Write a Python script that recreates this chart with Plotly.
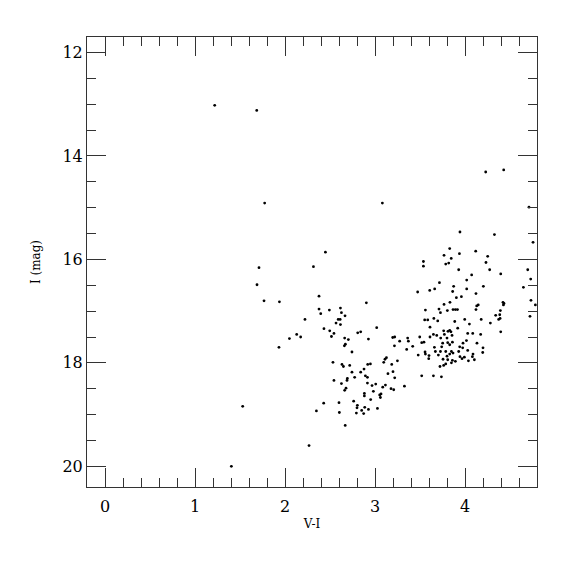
'''
Colour-magnitude diagram (I vs V-I) with Plotly
'''
import plotly.graph_objects as go

# V-I colour of each star
v_i = [
    1.219, 1.686, 1.774, 1.711, 1.689, 1.767, 1.938, 2.049, 1.933, 1.530, 1.404,
    2.449, 2.316, 2.378, 2.378, 2.493, 2.616, 2.397, 2.627, 2.667, 2.222, 2.591,
    2.613, 2.567, 2.616, 2.904, 3.474, 2.433, 2.497, 2.544, 2.516, 2.808, 2.841,
    3.019, 2.130, 2.174, 2.663, 2.704, 2.927, 3.197, 3.219, 3.274, 3.363, 3.371,
    3.497, 2.671, 2.660, 3.216, 3.419, 3.352, 2.744, 3.127, 3.111, 3.480,
    2.533, 2.633, 2.649, 2.719, 2.919, 2.949, 2.878, 2.841, 2.744, 3.097, 3.186,
    3.249, 3.144, 3.200, 3.219, 2.627, 2.544, 2.693, 2.689, 2.774, 2.893, 2.916,
    2.916, 2.967, 3.008, 2.678, 2.663, 2.882, 2.882, 2.982, 3.052, 3.067, 3.060,
    3.086, 3.116, 3.178, 3.208, 2.952, 2.763, 2.600, 2.430, 2.804, 2.800, 2.886,
    2.852, 2.927, 3.027, 2.349, 2.604, 2.793, 2.874, 2.669, 2.267,
    4.230, 4.430, 3.082, 4.711, 3.944, 4.327, 4.756, 3.830, 4.119, 3.767, 3.938,
    3.847, 4.252,
    3.538, 3.538, 3.786, 3.819, 3.930, 4.074, 4.019, 3.716, 3.608, 3.663, 3.874,
    3.863, 4.019, 4.122, 3.904, 3.960, 3.833, 3.767, 4.147, 4.130, 3.560, 3.711,
    3.727, 3.804, 3.867, 3.893, 3.916, 4.122, 3.997, 3.654, 3.552,
    4.233, 4.274, 4.397, 4.697, 4.730, 4.649, 4.204, 4.733, 4.422, 4.433, 4.427,
    4.393, 4.782, 4.722, 4.341, 4.386, 4.374, 4.390, 4.180,
    3.586, 3.697, 3.886, 4.049, 3.611, 3.763, 3.811, 3.830, 3.844, 3.919, 3.686,
    3.649, 3.771, 3.611, 3.856, 4.030, 4.086, 3.730, 3.800, 4.016, 4.133, 3.519,
    3.544, 3.752, 3.808, 3.860, 3.830, 3.978, 3.660, 3.741, 3.941, 3.974, 3.671,
    3.727, 3.786, 3.556, 3.560, 3.849, 3.830, 3.867, 3.930, 4.030, 3.704, 3.800,
    3.944, 3.993, 3.967, 4.089, 4.082, 3.600, 3.597, 3.756, 3.808, 3.860, 3.893,
    4.038, 4.104, 3.849, 3.786, 3.763, 3.722, 3.519, 3.649, 3.738,
    4.282, 4.397, 4.174, 4.200, 4.197, 3.327,
]

# I magnitude of each star
i_mag = [
    13.02, 13.12, 14.91, 16.16, 16.49, 16.80, 16.82, 17.53, 17.70, 18.84, 20.00,
    15.86, 16.14, 16.71, 16.96, 16.98, 16.94, 17.05, 17.03, 17.09, 17.16, 17.16,
    17.16, 17.23, 17.26, 16.84, 16.63, 17.34, 17.38, 17.43, 17.49, 17.42, 17.40,
    17.32, 17.45, 17.50, 17.52, 17.55, 17.54, 17.51, 17.50, 17.58, 17.52, 17.58,
    17.50, 17.64, 17.67, 17.67, 17.68, 17.74, 17.79, 17.90, 17.93, 17.85,
    17.99, 18.03, 18.07, 18.05, 18.03, 18.02, 18.12, 18.18, 18.18, 17.99, 18.03,
    17.96, 18.21, 18.17, 18.29, 18.40, 18.34, 18.30, 18.34, 18.28, 18.25, 18.28,
    18.39, 18.44, 18.41, 18.49, 18.53, 18.59, 18.64, 18.55, 18.62, 18.60, 18.67,
    18.47, 18.43, 18.50, 18.52, 18.71, 18.74, 18.77, 18.78, 18.82, 18.87, 18.86,
    18.92, 18.90, 18.88, 18.93, 18.96, 18.97, 18.98, 19.21, 19.60,
    14.31, 14.27, 14.91, 14.99, 15.47, 15.52, 15.67, 15.79, 15.84, 15.92, 15.89,
    15.98, 15.94,
    16.04, 16.13, 16.09, 16.07, 16.20, 16.30, 16.40, 16.45, 16.60, 16.57, 16.52,
    16.62, 16.57, 16.66, 16.74, 16.72, 16.83, 16.87, 16.88, 16.90, 16.98, 16.96,
    17.03, 16.99, 16.97, 16.97, 16.97, 16.97, 17.16, 17.14, 17.17,
    16.06, 16.20, 16.28, 16.20, 16.38, 16.54, 16.52, 16.79, 16.83, 16.85, 16.88,
    16.99, 16.88, 17.10, 17.08, 17.07, 17.16, 17.14, 17.16,
    17.17, 17.19, 17.20, 17.25, 17.31, 17.38, 17.39, 17.37, 17.40, 17.33, 17.47,
    17.45, 17.45, 17.50, 17.47, 17.43, 17.43, 17.52, 17.52, 17.57, 17.62, 17.61,
    17.60, 17.62, 17.61, 17.60, 17.65, 17.62, 17.70, 17.69, 17.69, 17.71, 17.78,
    17.78, 17.78, 17.79, 17.83, 17.78, 17.83, 17.81, 17.78, 17.76, 17.85, 17.87,
    17.88, 17.89, 17.92, 17.83, 17.88, 17.86, 17.92, 17.93, 17.94, 17.95, 17.97,
    17.96, 17.94, 18.00, 18.02, 18.05, 18.07, 18.25, 18.25, 18.27,
    17.23, 17.40, 17.45, 17.71, 17.80, 18.45,
]

x_ticks = [0, 1, 2, 3, 4]
y_ticks = [12, 14, 16, 18, 20]

serif = "DejaVu Serif"

fig = go.Figure()
fig.add_trace(go.Scatter(
    x=v_i, y=i_mag, mode='markers',
    marker=dict(size=2.8, color='black', line=dict(width=0)),
    hoverinfo='x+y', showlegend=False,
))

axis_common = dict(
    showgrid=False, zeroline=False,
    showline=True, linecolor='#333', linewidth=1, mirror='allticks',
    ticks='inside', ticklen=19, tickwidth=1, tickcolor='#333',
    tickfont=dict(family=serif, size=16, color='black'),
)

fig.update_xaxes(
    range=[-0.2, 4.8], tickvals=x_ticks, ticklabelstandoff=5,
    minor=dict(ticks='inside', ticklen=9, dtick=0.2, tick0=0, tickcolor='#333', showgrid=False),
    title=dict(text='V-I', font=dict(family=serif, size=12, color='black'), standoff=4),
    **axis_common,
)
fig.update_yaxes(
    range=[20.4, 11.7], tickvals=y_ticks,
    minor=dict(ticks='inside', ticklen=9, dtick=0.5, tick0=12, tickcolor='#333', showgrid=False),
    title=dict(text='I (mag)', font=dict(family=serif, size=12, color='black'), standoff=19),
    **axis_common,
)

# the page adds an 8 px body margin, so the margins are shifted to keep the frame in place
fig.update_layout(
    width=575, height=575,
    margin=dict(l=79, r=46, t=29, b=96),
    plot_bgcolor='white', paper_bgcolor='white',
    font=dict(family=serif),
)

fig.write_html("out.html")
